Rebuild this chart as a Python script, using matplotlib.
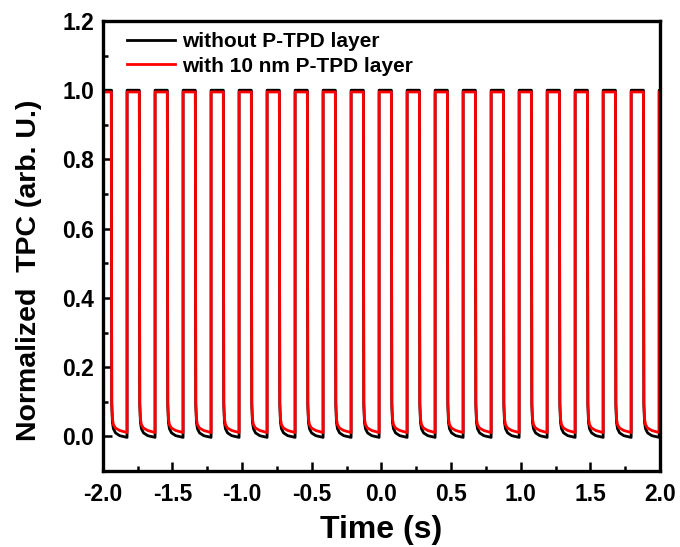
import numpy as np
import matplotlib.pyplot as plt
from matplotlib.ticker import MultipleLocator

plt.rcParams['font.family'] = ['Liberation Sans', 'DejaVu Sans']
plt.rcParams['font.weight'] = 'bold'
plt.rcParams['axes.unicode_minus'] = False

# rising edge times (s), period ~0.201 s
rise_times = [-2.026, -1.825, -1.624, -1.423, -1.222, -1.021, -0.820,
              -0.619, -0.418, -0.217, -0.016, 0.185, 0.386, 0.587,
              0.788, 0.989, 1.190, 1.391, 1.592, 1.793, 1.994]
high_time = 0.088  # duration of the "on" part

# decay after switching off (time after falling edge, normalized value)
tail_dt = [0.0, 0.003, 0.008, 0.015, 0.030, 0.060, 0.112]
tail_ref = [1.0, 0.09, 0.040, 0.022, 0.010, 0.002, -0.003]
tail_ptpd = [0.995, 0.10, 0.050, 0.034, 0.024, 0.017, 0.011]

labels = ['without P-TPD layer', 'with 10 nm P-TPD layer']
colors = ['black', 'red']


def build(tail):
    t, y = [], []
    for r in rise_times:
        t += [r, r]
        y += [tail[-1], tail[0]]
        f = r + high_time
        for dt, v in zip(tail_dt, tail):
            t.append(f + dt)
            y.append(v)
    return np.array(t), np.array(y)


fig = plt.figure(figsize=(6.8, 5.47), dpi=100)
ax = fig.add_axes([0.151, 0.139, 0.8196, 0.8226])

for tail, lab, c in zip([tail_ref, tail_ptpd], labels, colors):
    t, y = build(tail)
    ax.plot(t, y, color=c, lw=2.0, label=lab)

ax.set_xlim(-2.0, 2.0)
ax.set_ylim(-0.1, 1.2)
ax.xaxis.set_major_locator(MultipleLocator(0.5))
ax.xaxis.set_minor_locator(MultipleLocator(0.25))
ax.yaxis.set_major_locator(MultipleLocator(0.2))
ax.yaxis.set_minor_locator(MultipleLocator(0.1))
ax.tick_params(which='both', direction='in', width=1.8, labelsize=16.5,
               top=False, right=False)
ax.tick_params(which='major', length=6.5)
ax.tick_params(axis='x', which='major', pad=9)
ax.tick_params(axis='y', which='major', pad=6)
ax.tick_params(which='minor', length=3.5)
for s in ax.spines.values():
    s.set_linewidth(2.4)
for lbl in ax.get_xticklabels() + ax.get_yticklabels():
    lbl.set_fontweight('bold')

ax.set_xlabel('Time (s)', fontsize=23, fontweight='bold', labelpad=6)
ax.set_ylabel('Normalized  TPC (arb. U.)', fontsize=20.5, fontweight='bold')
ax.yaxis.set_label_coords(-0.109, 0.447)

ax.legend(loc='upper left', frameon=False, handlelength=2.3,
          handletextpad=0.35, labelspacing=0.28, borderaxespad=0, borderpad=0,
          bbox_to_anchor=(0.044, 0.976), prop={'weight': 'bold', 'size': 15})

fig.savefig('out.png', dpi=100)
